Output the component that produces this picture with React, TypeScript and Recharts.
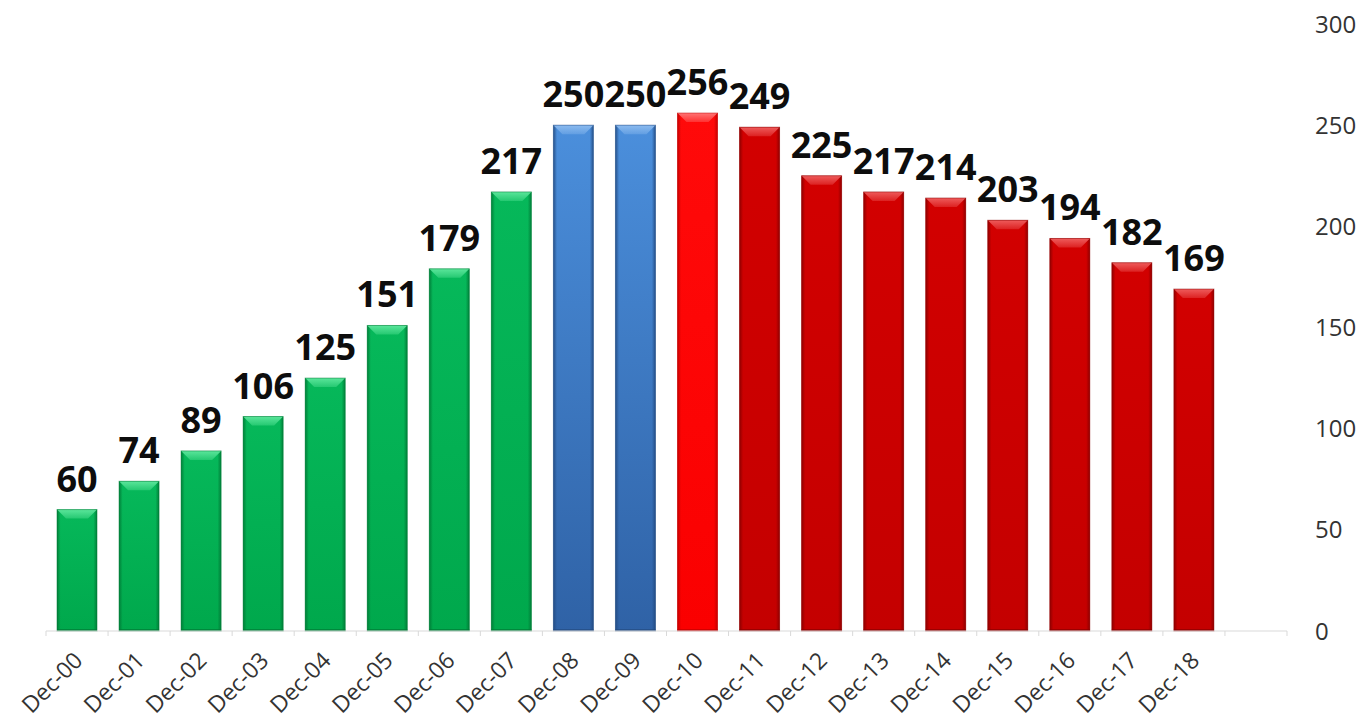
import React from 'react';
import { BarChart, Bar, XAxis, YAxis, LabelList } from 'recharts';

// Year-end values, December 2000 through December 2018
const years = ['Dec-00', 'Dec-01', 'Dec-02', 'Dec-03', 'Dec-04', 'Dec-05', 'Dec-06', 'Dec-07', 'Dec-08', 'Dec-09', 'Dec-10', 'Dec-11', 'Dec-12', 'Dec-13', 'Dec-14', 'Dec-15', 'Dec-16', 'Dec-17', 'Dec-18'];
const values = [60, 74, 89, 106, 125, 151, 179, 217, 250, 250, 256, 249, 225, 217, 214, 203, 194, 182, 169];
// Phase of each year: rising, plateau, peak, declining
const phases = ['rise', 'rise', 'rise', 'rise', 'rise', 'rise', 'rise', 'rise', 'plateau', 'plateau', 'peak', 'decline', 'decline', 'decline', 'decline', 'decline', 'decline', 'decline', 'decline'];
const yTicks = [0, 50, 100, 150, 200, 250, 300];

// Fill styles for each phase: top, bottom, edge, bevel highlight
const phaseStyle: Record<string, { top: string; bottom: string; edge: string; bevel: string }> = {
  rise: { top: '#06b85a', bottom: '#00a84c', edge: '#007a36', bevel: '#5fe89e' },
  plateau: { top: '#4b8fdc', bottom: '#2f62a6', edge: '#234b82', bevel: '#8fbdf0' },
  peak: { top: '#ff0a0a', bottom: '#fa0000', edge: '#c00000', bevel: '#ff7a7a' },
  decline: { top: '#d20000', bottom: '#c40000', edge: '#8a0000', bevel: '#f06060' },
};

// One trailing empty slot keeps a gap before the value axis
const data = [
  ...years.map((name, i) => ({ name, value: values[i], phase: phases[i] })),
  { name: '', value: null as number | null, phase: '' },
];

const labelFont = '"Open Sans", "DejaVu Sans", sans-serif';

const BevelBar = (props: any) => {
  const { x, y, width, height, index, payload } = props;
  if (payload == null || payload.value == null || !(height > 0)) return null;
  const s = phaseStyle[payload.phase];
  const b = Math.min(9, height / 2);
  const gid = `bar-grad-${index}`;
  const sid = `bar-side-${index}`;
  const bid = `bar-bevel-${index}`;
  return (
    <g>
      <defs>
        <linearGradient id={gid} x1="0" y1="0" x2="0" y2="1">
          <stop offset="0" stopColor={s.top} />
          <stop offset="1" stopColor={s.bottom} />
        </linearGradient>
        <linearGradient id={sid} x1="0" y1="0" x2="1" y2="0">
          <stop offset="0" stopColor={s.edge} stopOpacity={0.9} />
          <stop offset="0.09" stopColor={s.edge} stopOpacity={0} />
          <stop offset="0.91" stopColor={s.edge} stopOpacity={0} />
          <stop offset="1" stopColor={s.edge} stopOpacity={0.9} />
        </linearGradient>
        <linearGradient id={bid} x1="0" y1="0" x2="0" y2="1">
          <stop offset="0" stopColor={s.bevel} stopOpacity={0.95} />
          <stop offset="1" stopColor={s.bevel} stopOpacity={0.35} />
        </linearGradient>
      </defs>
      <rect x={x} y={y} width={width} height={height} fill={`url(#${gid})`} />
      <rect x={x} y={y} width={width} height={height} fill={`url(#${sid})`} />
      <polygon
        points={`${x},${y} ${x + width},${y} ${x + width - b},${y + b} ${x + b},${y + b}`}
        fill={`url(#${bid})`}
      />
      <rect x={x} y={y + height - 2} width={width} height={2} fill={s.edge} opacity={0.7} />
      <rect x={x} y={y} width={width} height={height} fill="none" stroke={s.edge} strokeOpacity={0.5} strokeWidth={1} />
    </g>
  );
};

const XTick = (props: any) => {
  const { x, y, payload, width, visibleTicksCount, index } = props;
  const half = width / visibleTicksCount / 2;
  const isLast = index === visibleTicksCount - 1;
  const tx = x + 7;
  const ty = y + 31;
  return (
    <g>
      <line x1={x - half} y1={y} x2={x - half} y2={y + 5} stroke="#d9d9d9" strokeWidth={1} />
      {isLast && <line x1={x + half} y1={y} x2={x + half} y2={y + 5} stroke="#d9d9d9" strokeWidth={1} />}
      {payload.value ? (
        <text
          x={tx}
          y={ty}
          transform={`rotate(-45, ${tx}, ${ty})`}
          textAnchor="end"
          fill="#333333"
          fontSize={23}
          fontFamily={labelFont}
        >
          {payload.value}
        </text>
      ) : null}
    </g>
  );
};

const YTick = (props: any) => {
  const { x, y, payload } = props;
  return (
    <text x={x} y={y} dy="0.36em" textAnchor="start" fill="#333333" fontSize={24} fontFamily={labelFont}>
      {payload.value}
    </text>
  );
};

export default function App() {
  return (
    <div style={{ position: 'absolute', left: 0, top: 0, width: 1365, height: 721, background: '#ffffff' }}>
      <BarChart
        width={1365}
        height={721}
        data={data}
        margin={{ top: 24, right: 0, left: 46, bottom: 0 }}
        barSize={40}
      >
        <XAxis
          dataKey="name"
          interval={0}
          height={90}
          tickSize={0}
          tickMargin={0}
          axisLine={{ stroke: '#d9d9d9', strokeWidth: 1 }}
          tickLine={false}
          tick={<XTick />}
        />
        <YAxis
          orientation="right"
          width={78}
          domain={[0, 300]}
          ticks={yTicks}
          axisLine={false}
          tickLine={false}
          tickSize={0}
          tickMargin={28}
          tick={<YTick />}
        />
        <Bar dataKey="value" isAnimationActive={false} shape={<BevelBar />}>
          <LabelList
            dataKey="value"
            position="top"
            offset={18}
            formatter={(v: any) => (v == null ? '' : v)}
            fill="#0d0d0d"
            fontSize={36}
            fontWeight={700}
            fontFamily={labelFont}
          />
        </Bar>
      </BarChart>
    </div>
  );
}
